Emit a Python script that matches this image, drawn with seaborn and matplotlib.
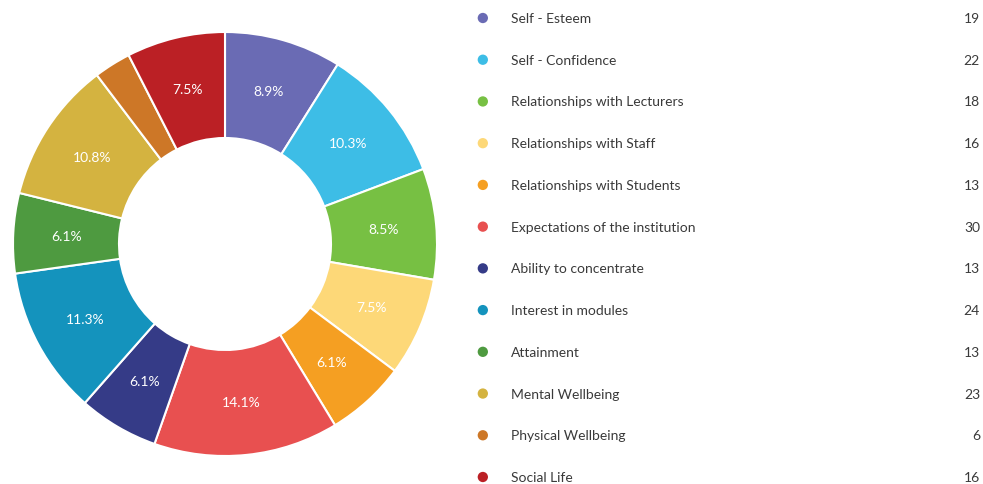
"""
Donut chart of survey responses with a side legend listing counts
"""
import matplotlib
matplotlib.use("Agg")
import matplotlib.pyplot as plt
import seaborn as sns
import pandas as pd

categories = [
    "Self - Esteem",
    "Self - Confidence",
    "Relationships with Lecturers",
    "Relationships with Staff",
    "Relationships with Students",
    "Expectations of the institution",
    "Ability to concentrate",
    "Interest in modules",
    "Attainment",
    "Mental Wellbeing",
    "Physical Wellbeing",
    "Social Life",
]
counts = [19, 22, 18, 16, 13, 30, 13, 24, 13, 23, 6, 16]
colors = [
    "#6a6bb4", "#3dbde6", "#77c043", "#fdd878", "#f59f22", "#e85050",
    "#353b87", "#1493bd", "#4e9a40", "#d4b340", "#cd7727", "#bb2025",
]

sns.set_theme(style="white")
plt.rcParams["font.family"] = ["Lato", "DejaVu Sans"]

W, H = 983, 485
fig = plt.figure(figsize=(W / 100, H / 100), dpi=100)

# Donut
ax = fig.add_axes([13 / W, 28 / H, 424 / W, 424 / H])
total = sum(counts)


def pct_label(p):
    # small slices get no label
    return f"{p:.1f}%" if p >= 5 else ""


wedges, _, autotexts = ax.pie(
    counts,
    colors=colors,
    startangle=90,
    counterclock=False,
    radius=1.0,
    wedgeprops=dict(width=0.5, edgecolor="white", linewidth=1.5),
    autopct=pct_label,
    pctdistance=0.75,
    textprops=dict(color="white", fontsize=10),
)
ax.set_xlim(-1.0, 1.0)
ax.set_ylim(-1.0, 1.0)
ax.set_aspect("equal")
ax.axis("off")

# Legend
ax_leg = fig.add_axes([470 / W, 0, 513 / W, 1])
df = pd.DataFrame({"category": categories, "count": counts})
df["row"] = range(len(df))
df["x"] = 0.025
sns.scatterplot(
    data=df, x="x", y="row", hue="category", palette=colors,
    s=55, edgecolor="none", legend=False, ax=ax_leg,
)
for _, r in df.iterrows():
    ax_leg.text(0.08, r["row"], r["category"], va="center", ha="left",
                fontsize=10, color="#3a3a3a")
    ax_leg.text(0.994, r["row"], str(r["count"]), va="center", ha="right",
                fontsize=10, color="#3a3a3a")

step = (478 - 19) / 11
ax_leg.set_xlim(0, 1)
ax_leg.set_ylim((H - 19) / step, -19 / step)
ax_leg.axis("off")

fig.savefig("out.png", dpi=100)
plt.close(fig)
